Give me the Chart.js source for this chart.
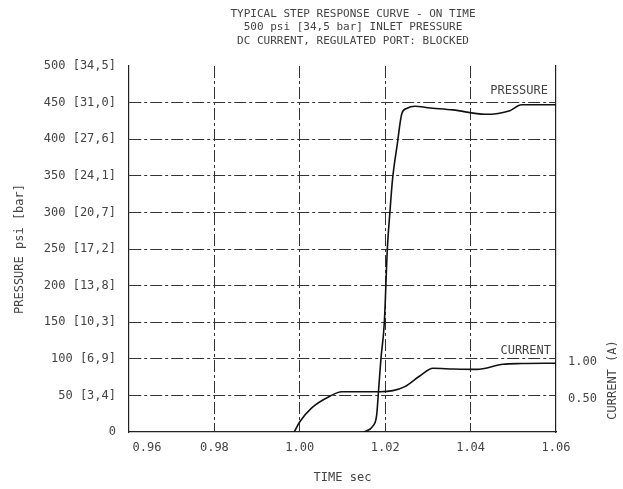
<!DOCTYPE html>
<html>
<head>
<meta charset="utf-8">
<script src="https://cdn.jsdelivr.net/npm/chart.js@4.4.1/dist/chart.umd.min.js"></script>
<style>
  html, body { margin: 0; padding: 0; background: #fff; }
  #wrap { width: 623px; height: 489px; }
</style>
</head>
<body>
<div id="wrap"><canvas id="stepChart"></canvas></div>
<script>
// chart title lines
const titleLines = ['TYPICAL STEP RESPONSE CURVE - ON TIME', '500 psi [34,5 bar] INLET PRESSURE', 'DC CURRENT, REGULATED PORT: BLOCKED'];
// time axis ticks (sec)
const timeTicks = [0.96, 0.98, 1.00, 1.02, 1.04, 1.06];
// pressure axis ticks, psi and bar
const psiTicks = [0, 50, 100, 150, 200, 250, 300, 350, 400, 450, 500];
const barLabels = ['', '3,4', '6,9', '10,3', '13,8', '17,2', '20,7', '24,1', '27,6', '31,0', '34,5'];
// current axis ticks (A)
const currentTicks = [0.5, 1.0];

// pressure curve
const pressureTime = [1.0150, 1.0171, 1.0180, 1.0184, 1.0190, 1.0198, 1.0205, 1.0211, 1.0217, 1.0228, 1.0239, 1.0250, 1.0270, 1.0300, 1.0359, 1.0434, 1.0492, 1.0519, 1.0560, 1.0600];
const pressurePsi  = [0, 8, 23, 53, 100, 150, 250, 300, 344, 392, 435, 442, 445, 443, 440, 434, 439, 447, 447, 447];

// current curve
const currentTime = [0.9987, 1.0000, 1.0028, 1.0071, 1.0098, 1.0188, 1.0218, 1.0246, 1.0281, 1.0312, 1.0360, 1.0414, 1.0476, 1.0520, 1.0600];
const currentAmp  = [0, 0.14, 0.33, 0.49, 0.55, 0.55, 0.565, 0.62, 0.765, 0.87, 0.86, 0.855, 0.925, 0.935, 0.94];

const FONT = 'DejaVu Sans Mono';
const TXT = '#444';
const GRID = '#333';

function toPoints(xs, ys) {
    return xs.map((x, i) => ({ x: x, y: ys[i] }));
}

// draws the title, the curve names and the right axis title
const extraText = {
    id: 'extraText',
    afterDraw(chart) {
        const ctx = chart.ctx;
        const x = chart.scales.x;
        const y = chart.scales.y;
        ctx.save();
        ctx.fillStyle = TXT;
        ctx.textBaseline = 'middle';
        ctx.textAlign = 'center';
        ctx.font = '11px "' + FONT + '"';
        titleLines.forEach((t, i) => ctx.fillText(t, 353, 14 + i * 13.5));
        ctx.font = '12px "' + FONT + '"';
        ctx.textAlign = 'right';
        ctx.fillText('PRESSURE', x.right - 8, y.getPixelForValue(450) - 12);
        ctx.fillText('CURRENT', x.right - 5, y.getPixelForValue(100) - 8);
        ctx.translate(613, 380);
        ctx.rotate(-Math.PI / 2);
        ctx.textAlign = 'center';
        ctx.fillText('CURRENT (A)', 0, 0);
        ctx.restore();
    }
};

const gridColor = (ends) => (c) => ends.includes(c.tick.value) ? 'rgba(0,0,0,0)' : GRID;

new Chart(document.getElementById('stepChart'), {
    type: 'scatter',
    data: {
        datasets: [{
            label: 'PRESSURE',
            data: toPoints(pressureTime, pressurePsi),
            yAxisID: 'y',
            showLine: true,
            borderColor: '#111',
            borderWidth: 1.6,
            pointRadius: 0,
            cubicInterpolationMode: 'monotone'
        },
        {
            label: 'CURRENT',
            data: toPoints(currentTime, currentAmp),
            yAxisID: 'y2',
            showLine: true,
            borderColor: '#111',
            borderWidth: 1.6,
            pointRadius: 0,
            cubicInterpolationMode: 'monotone'
        }]
    },
    options: {
        responsive: true,
        maintainAspectRatio: false,
        animation: false,
        layout: { padding: { top: 66, left: 0, right: 0, bottom: 0 } },
        plugins: {
            legend: { display: false },
            tooltip: { enabled: false },
            title: { display: false }
        },
        scales: {
            x: {
                type: 'linear',
                min: 0.96,
                max: 1.06,
                afterBuildTicks: (s) => { s.ticks = timeTicks.map(v => ({ value: v })); },
                afterFit: (s) => { s.height = 57; },
                ticks: {
                    color: TXT,
                    font: { family: FONT, size: 12 },
                    padding: 9,
                    maxRotation: 0,
                    // first label sits clear of the corner
                    callback: (v) => (v === timeTicks[0] ? '     ' : '') + v.toFixed(2)
                },
                grid: { color: gridColor([0.96, 1.06]), drawTicks: false },
                border: { display: true, color: '#222', width: 1.2, dash: [12, 3, 3, 3] },
                title: { display: true, text: 'TIME sec', color: TXT, font: { family: FONT, size: 12 }, padding: { top: 0, bottom: 4 } }
            },
            y: {
                type: 'linear',
                position: 'left',
                min: 0,
                max: 500,
                afterBuildTicks: (s) => { s.ticks = psiTicks.map(v => ({ value: v })); },
                afterFit: (s) => { s.width = 129; },
                ticks: {
                    color: TXT,
                    font: { family: FONT, size: 12 },
                    padding: 13,
                    callback: (v) => {
                        const b = barLabels[psiTicks.indexOf(v)];
                        return b ? v + ' [' + b + ']' : String(v);
                    }
                },
                grid: { color: gridColor([0, 500]), drawTicks: false },
                border: { display: true, color: '#222', width: 1.2, dash: [12, 3, 3, 3] },
                title: { display: true, text: 'PRESSURE psi [bar]', color: TXT, font: { family: FONT, size: 12 }, padding: { top: 13, bottom: 0 } }
            },
            y2: {
                type: 'linear',
                position: 'right',
                min: 0,
                max: 5,
                afterBuildTicks: (s) => { s.ticks = currentTicks.map(v => ({ value: v })); },
                afterFit: (s) => { s.width = 67; },
                ticks: {
                    color: TXT,
                    font: { family: FONT, size: 12 },
                    padding: 12,
                    labelOffset: 3,
                    callback: (v) => v.toFixed(2)
                },
                grid: { display: false, drawTicks: false },
                border: { display: true, color: '#222', width: 1.2 }
            }
        }
    },
    plugins: [extraText]
});
</script>
</body>
</html>
